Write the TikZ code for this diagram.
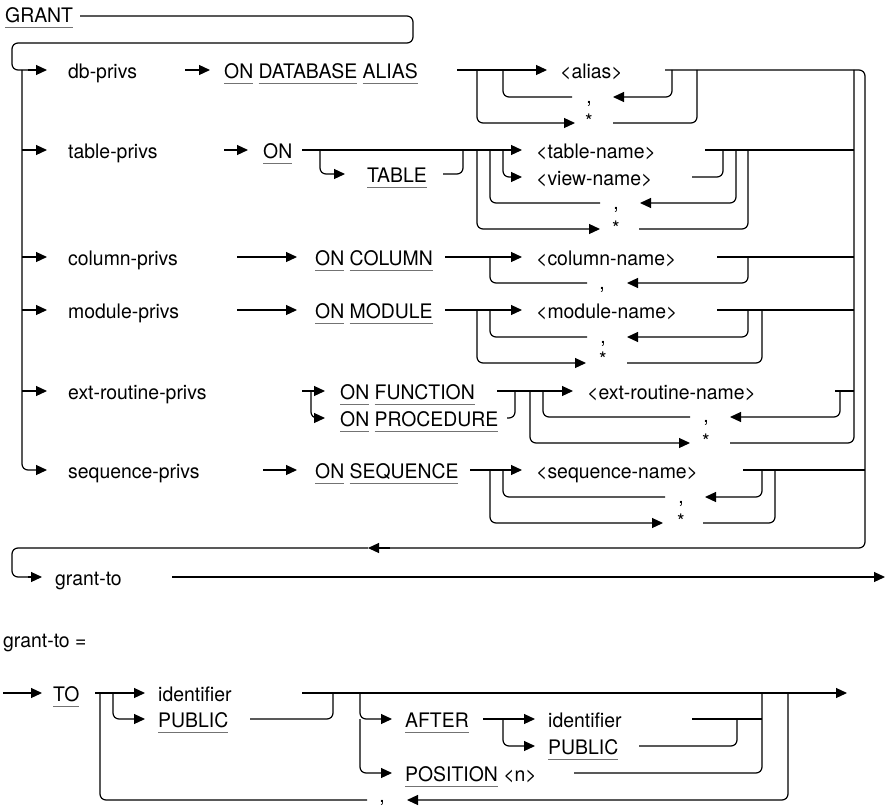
\documentclass[tikz,border=0pt]{standalone}
\usepackage{fontspec}
\setmainfont{TeX Gyre Heros}[FakeStretch=0.97]
\usetikzlibrary{arrows.meta}
\definecolor{ulgray}{gray}{0.45}
\newcommand\kw[1]{\setbox0=\hbox{#1}\rlap{\textcolor{ulgray}{\rule[-5.5pt]{\wd0}{1pt}}}\box0\relax}
\begin{document}
\begin{tikzpicture}[x=1pt,y=-1pt,
  ln/.style={line width=1.2pt, rounded corners=6pt},
  arr/.style={ln, -{Triangle[length=11pt,width=10pt]}},
  lbl/.style={anchor=base west, inner sep=0pt, font=\fontsize{20}{24}\selectfont},
  sym/.style={anchor=base, inner sep=0pt, font=\fontsize{20}{24}\selectfont}]
\useasboundingbox (0,0) rectangle (886,808);

% ---------- GRANT ----------
\node[lbl] (grant) at (5,23) {\kw{GRANT}};
\draw[ln] (80,16) -- (413,16) -- (413,43) -- (12,43) -- (12,70) -- (30,70);
\draw[arr] (28,70) -- (47,70);
\draw[arr] (22,70) -- (22,470) -- (47,470);

% ---------- row 1: db-privs ----------
\node[lbl] (dbp) at (68,78) {db-privs};
\draw[arr] (185,70) -- (210,70);
\node[lbl] (onda) at (224,78) {\kw{ON} \kw{DATABASE} \kw{ALIAS}};
\draw[arr] (457,70) -- (547,70);
\node[lbl] (alias) at (560,78) {<alias>};
\draw[arr] (477,70) -- (477,123) -- (575,123);
\draw[ln] (613,123) -- (697,123) -- (697,70);
\draw[arr] (672,70) -- (672,97) -- (613,97);
\draw[ln] (572,97) -- (503,97) -- (503,70);
\node[sym] (c1) at (589,103) {,};
\node[sym] (s1) at (589,128) {*};
\draw[ln] (665,70) -- (865,70) -- (865,548) -- (380,548);
\draw[arr] (390,548) -- (368,548);
\draw[ln] (368,548) -- (12,548) -- (12,577) -- (30,577);
\draw[arr] (28,577) -- (42,577);
\draw[ln] (854,70) -- (854,443) -- (730,443);

% ---------- row 2: table-privs ----------
\draw[arr] (22,150) -- (47,150);
\node[lbl] (tbp) at (68,158) {table-privs};
\draw[arr] (224,150) -- (248,150);
\node[lbl] (on2) at (263,158) {\kw{ON}};
\draw[arr] (302,150) -- (522,150);
\draw[arr] (320,150) -- (320,174) -- (345,174);
\node[lbl] (table) at (367,182) {\kw{TABLE}};
\draw[ln] (443,174) -- (463,174) -- (463,150);
\node[lbl] (tname) at (536,158) {<table-name>};
\draw[arr] (503,150) -- (503,177) -- (522,177);
\node[lbl] (vname) at (536,185) {<view-name>};
\draw[ln] (692,177) -- (723,177) -- (723,150);
\draw[ln] (705,150) -- (854,150);
\draw[arr] (736,150) -- (736,203) -- (640,203);
\draw[ln] (600,203) -- (490,203) -- (490,150);
\draw[arr] (477,150) -- (477,229) -- (600,229);
\draw[ln] (639,229) -- (748,229) -- (748,150);
\node[sym] (c2) at (616,209) {,};
\node[sym] (s2) at (616,235) {*};

% ---------- row 3: column-privs ----------
\draw[arr] (22,257) -- (47,257);
\node[lbl] (clp) at (68,265) {column-privs};
\draw[arr] (237,257) -- (297,257);
\node[lbl] (oncol) at (315,265) {\kw{ON} \kw{COLUMN}};
\draw[arr] (445,257) -- (522,257);
\node[lbl] (cname) at (536,265) {<column-name>};
\draw[ln] (717,257) -- (854,257);
\draw[arr] (748,257) -- (748,283) -- (627,283);
\draw[ln] (587,283) -- (490,283) -- (490,257);
\node[sym] (c3) at (602,289) {,};

% ---------- row 4: module-privs ----------
\draw[arr] (22,310) -- (47,310);
\node[lbl] (mdp) at (68,318) {module-privs};
\draw[arr] (237,310) -- (297,310);
\node[lbl] (onmod) at (315,318) {\kw{ON} \kw{MODULE}};
\draw[arr] (445,310) -- (522,310);
\node[lbl] (mname) at (536,318) {<module-name>};
\draw[ln] (717,310) -- (854,310);
\draw[arr] (748,310) -- (748,337) -- (627,337);
\draw[ln] (587,337) -- (490,337) -- (490,310);
\draw[arr] (477,310) -- (477,363) -- (586,363);
\draw[ln] (627,363) -- (762,363) -- (762,310);
\node[sym] (c4) at (603,343) {,};
\node[sym] (s4) at (603,366) {*};

% ---------- row 5: ext-routine-privs ----------
\draw[arr] (22,391) -- (47,391);
\node[lbl] (erp) at (68,399) {ext-routine-privs};
\draw[arr] (302,391) -- (325,391);
\draw[arr] (311,391) -- (311,418) -- (325,418);
\node[lbl] (onfun) at (340,399) {\kw{ON} \kw{FUNCTION}};
\node[lbl] (onproc) at (340,426) {\kw{ON} \kw{PROCEDURE}};
\draw[arr] (497,391) -- (573,391);
\draw[ln] (507,418) -- (515,418) -- (515,391);
\node[lbl] (ername) at (587,399) {<ext-routine-name>};
\draw[ln] (835,391) -- (854,391);
\draw[arr] (840,391) -- (840,417) -- (730,417);
\draw[ln] (690,417) -- (543,417) -- (543,391);
\draw[arr] (530,391) -- (530,443) -- (690,443);
\node[sym] (c5) at (706,422) {,};
\node[sym] (s5) at (706,448) {*};

% ---------- row 6: sequence-privs ----------
\node[lbl] (sqp) at (68,478) {sequence-privs};
\draw[arr] (263,470) -- (297,470);
\node[lbl] (onseq) at (315,478) {\kw{ON} \kw{SEQUENCE}};
\draw[arr] (470,470) -- (522,470);
\node[lbl] (sname) at (536,478) {<sequence-name>};
\draw[ln] (743,470) -- (865,470);
\draw[arr] (762,470) -- (762,497) -- (705,497);
\draw[ln] (665,497) -- (503,497) -- (503,470);
\draw[arr] (490,470) -- (490,523) -- (663,523);
\draw[ln] (703,523) -- (775,523) -- (775,470);
\node[sym] (c6) at (681,503) {,};
\node[sym] (s6) at (681,528) {*};

% ---------- grant-to ----------
\node[lbl] (gt) at (55,585) {grant-to};
\draw[arr] (172,577) -- (885,577);

% ---------- grant-to definition ----------
\node[lbl] (gtdef) at (3,647) {grant-to =};
\draw[arr] (3,693) -- (42,693);
\node[lbl] (to) at (53,701) {\kw{TO}};
\draw[arr] (95,693) -- (145,693);
\node[lbl] (id1) at (158,701) {identifier};
\draw[arr] (113,693) -- (113,719) -- (145,719);
\node[lbl] (pub1) at (158,727) {\kw{PUBLIC}};
\draw[ln] (250,719) -- (333,719) -- (333,693);
\draw[arr] (302,693) -- (847,693);
\draw[arr] (360,693) -- (360,719) -- (392,719);
\node[lbl] (after) at (405,727) {\kw{AFTER}};
\draw[arr] (483,719) -- (535,719);
\node[lbl] (id2) at (548,727) {identifier};
\draw[arr] (503,719) -- (503,746) -- (535,746);
\node[lbl] (pub2) at (548,754) {\kw{PUBLIC}};
\draw[ln] (692,719) -- (762,719);
\draw[ln] (639,746) -- (737,746) -- (737,719);
\draw[arr] (360,719) -- (360,773) -- (392,773);
\node[lbl] (pos) at (405,781) {\kw{POSITION} <n>};
\draw[ln] (574,773) -- (762,773) -- (762,693);
\draw[arr] (788,693) -- (788,800) -- (407,800);
\draw[ln] (367,800) -- (100,800) -- (100,693);
\node[sym] (c7) at (382,802) {,};
\end{tikzpicture}
\end{document}
